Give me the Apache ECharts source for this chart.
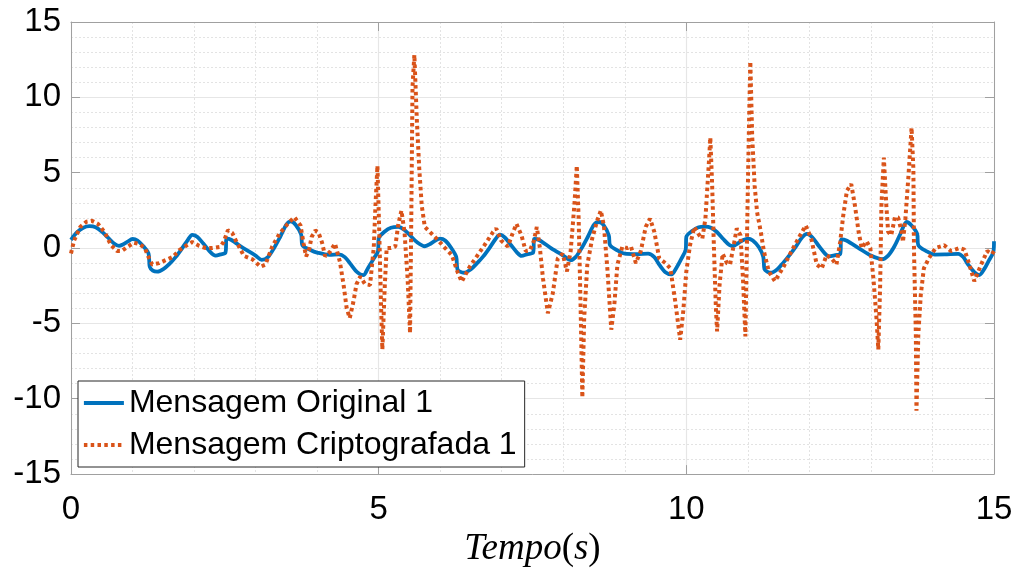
<!DOCTYPE html>
<html lang="pt">
<head>
    <meta charset="UTF-8">
    <title>Mensagem original x criptografada</title>
    <script src="https://cdn.jsdelivr.net/npm/echarts@6.0.0/dist/echarts.min.js"></script>
    <style>
        html, body { margin: 0; padding: 0; background: #fff; }
    </style>
</head>
<body>
    <div id="main" style="width: 1020px;height:573px;"></div>
    <script type="text/javascript">
        // Mensagem original (blue) - time (s) and value
        const tOriginal = [
            0.00, 0.10, 0.20, 0.30, 0.40, 0.50, 0.60, 0.70, 0.78, 0.85, 0.92, 1.00, 1.08, 1.18, 1.26, 1.28, 1.33, 1.40, 1.50, 1.60,
            1.70, 1.80, 1.90, 1.97, 2.05, 2.15, 2.25, 2.35, 2.43, 2.51, 2.53, 2.60, 2.80, 3.00, 3.10, 3.20, 3.30, 3.40, 3.50, 3.57,
            3.65, 3.74, 3.76, 3.90, 4.00, 4.20, 4.35, 4.45, 4.55, 4.65, 4.75, 4.83, 4.92, 4.99,
            5.00, 5.10, 5.20, 5.32, 5.42, 5.52, 5.62, 5.75, 5.85, 5.92, 6.00, 6.08, 6.18, 6.26, 6.28, 6.33, 6.39, 6.50, 6.60, 6.70,
            6.80, 6.90, 6.97, 7.05, 7.15, 7.25, 7.32, 7.42, 7.51, 7.53, 7.60, 7.80, 8.00, 8.12, 8.20, 8.30, 8.40, 8.50, 8.58, 8.65,
            8.74, 8.76, 8.90, 9.00, 9.20, 9.38, 9.48, 9.56, 9.66, 9.76, 9.84, 9.92, 9.99,
            10.00, 10.10, 10.20, 10.30, 10.40, 10.50, 10.60, 10.70, 10.76, 10.85, 10.92, 11.00, 11.08, 11.18, 11.25, 11.27, 11.32, 11.37, 11.48, 11.58,
            11.68, 11.78, 11.88, 11.96, 12.05, 12.15, 12.25, 12.32, 12.42, 12.50, 12.52, 12.60, 12.80, 13.00, 13.18, 13.28, 13.38, 13.48, 13.58, 13.66,
            13.75, 13.77, 13.90, 14.04, 14.20, 14.42, 14.50, 14.58, 14.68, 14.76, 14.84, 14.92, 14.99, 15.00
        ];
        const vOriginal = [
            0.55, 1.05, 1.35, 1.45, 1.38, 1.10, 0.70, 0.30, 0.15, 0.25, 0.42, 0.60, 0.50, 0.10, -0.36, -1.25, -1.50, -1.57, -1.40, -1.05,
            -0.60, -0.05, 0.55, 0.88, 0.75, 0.30, -0.20, -0.50, -0.42, -0.30, 0.63, 0.55, 0.00, -0.50, -0.78, -0.60, 0.00, 0.75, 1.55, 1.77,
            1.55, 0.90, 0.20, -0.15, -0.30, -0.45, -0.42, -0.60, -1.10, -1.60, -1.80, -1.30, -0.70, -0.20,
            0.63, 1.10, 1.35, 1.40, 1.20, 0.80, 0.40, 0.12, 0.30, 0.50, 0.63, 0.50, 0.00, -0.58, -1.40, -1.58, -1.64, -1.40, -1.00, -0.55,
            0.00, 0.60, 0.89, 0.70, 0.20, -0.30, -0.52, -0.40, -0.30, 0.60, 0.55, 0.00, -0.50, -0.80, -0.60, 0.00, 0.75, 1.55, 1.73, 1.55,
            0.85, 0.19, -0.20, -0.37, -0.40, -0.37, -0.60, -1.10, -1.60, -1.75, -1.30, -0.70, -0.10,
            0.75, 1.15, 1.38, 1.42, 1.35, 1.05, 0.60, 0.20, 0.13, 0.35, 0.52, 0.63, 0.50, 0.05, -0.58, -1.40, -1.58, -1.64, -1.40, -0.95,
            -0.45, 0.10, 0.70, 0.94, 0.70, 0.15, -0.35, -0.55, -0.47, -0.40, 0.58, 0.50, 0.00, -0.50, -0.74, -0.50, 0.10, 0.95, 1.73, 1.50,
            0.96, 0.19, -0.20, -0.43, -0.42, -0.38, -0.60, -1.10, -1.60, -1.79, -1.40, -0.80, -0.25, 0.45
        ];

        // Mensagem criptografada (red dotted) - time (s) and value
        const tCrypt = [
            0.00, 0.05, 0.15, 0.25, 0.34, 0.44, 0.55, 0.65, 0.75, 0.82, 0.92, 1.02, 1.12, 1.20, 1.27, 1.32, 1.43, 1.54, 1.65, 1.76,
            1.87, 1.97, 2.08, 2.19, 2.30, 2.42, 2.48, 2.55, 2.62, 2.69, 2.81, 2.95, 3.08, 3.16, 3.27, 3.39, 3.52, 3.63, 3.73, 3.78,
            3.82, 3.87, 3.91, 3.97, 4.02, 4.08, 4.13, 4.21, 4.29, 4.37, 4.43, 4.48, 4.53, 4.59, 4.64, 4.70, 4.78, 4.86, 4.92, 4.95,
            4.98, 5.01, 5.04, 5.06, 5.10, 5.13, 5.20, 5.27, 5.32, 5.37, 5.42, 5.47, 5.51, 5.53, 5.55, 5.58, 5.62, 5.66, 5.70, 5.75,
            5.86, 5.97, 6.08, 6.19, 6.28, 6.35, 6.48, 6.59, 6.72, 6.86, 6.91, 6.99, 7.10, 7.17, 7.24, 7.32, 7.39, 7.46, 7.52, 7.57,
            7.62, 7.67, 7.75, 7.83, 7.91, 7.99, 8.06, 8.12, 8.18, 8.22, 8.25, 8.28, 8.31, 8.34, 8.39, 8.47, 8.55, 8.61, 8.66, 8.72,
            8.78, 8.83, 8.88, 8.96, 9.04, 9.10, 9.18, 9.26, 9.34, 9.41, 9.48, 9.56, 9.66, 9.74, 9.82, 9.90, 9.95, 10.00, 10.06, 10.13,
            10.21, 10.26, 10.31, 10.36, 10.39, 10.42, 10.45, 10.48, 10.50, 10.54, 10.59, 10.66, 10.71, 10.77, 10.82, 10.88, 10.92, 10.96, 11.00, 11.02,
            11.04, 11.07, 11.11, 11.15, 11.21, 11.26, 11.34, 11.44, 11.58, 11.71, 11.85, 11.94, 12.03, 12.12, 12.20, 12.28, 12.36, 12.44, 12.50, 12.55,
            12.61, 12.68, 12.74, 12.80, 12.85, 12.93, 12.99, 13.04, 13.09, 13.12, 13.15, 13.17, 13.21, 13.25, 13.28, 13.33, 13.39, 13.44, 13.50, 13.52,
            13.56, 13.61, 13.66, 13.69, 13.70, 13.73, 13.74, 13.77, 13.81, 13.86, 13.94, 14.05, 14.19, 14.30, 14.44, 14.52, 14.60, 14.68, 14.79, 14.89,
            14.97, 15.00
        ];
        const vCrypt = [
            -0.36, 0.50, 1.40, 1.75, 1.81, 1.60, 1.02, 0.19, -0.20, -0.20, 0.08, 0.36, 0.25, 0.00, -0.69, -1.09, -1.00, -0.80, -0.60, -0.14,
            0.15, 0.40, 0.15, 0.00, 0.00, 0.08, 0.40, 1.18, 1.00, 0.40, -0.52, -0.75, -1.24, -1.10, 0.10, 0.96, 1.60, 2.05, 1.50, 0.30,
            -0.56, -0.10, 0.74, 1.17, 1.05, 0.36, -0.55, -0.25, 0.30, -0.91, -2.45, -3.99, -4.65, -3.55, -2.40, -1.90, -2.40, -2.45, 0.00, 3.00,
            5.46, 1.00, -4.00, -6.73, -2.45, 0.00, 0.00, 0.10, 1.60, 2.49, 1.07, -2.00, -5.64, 1.95, 10.70, 12.82, 8.54, 5.24, 2.82, 1.40,
            0.96, 0.50, 0.00, -0.47, -1.57, -2.23, -1.24, -0.58, 0.19, 1.07, 1.30, 0.50, 0.10, 0.90, 1.60, 0.85, -0.20, -0.15, 0.45, 1.40,
            0.00, -2.00, -4.32, -3.00, -0.69, -0.37, -1.55, -0.20, 2.82, 5.46, 1.95, -3.55, -9.92, -4.65, -1.13, 0.63, 1.80, 2.49, 1.50, -1.55,
            -5.42, -3.75, -1.10, 0.10, 0.00, 0.10, -1.00, -0.20, 1.40, 1.95, 1.07, -0.69, -1.00, -1.35, -3.55, -6.08, -4.20, -1.55, 0.19, 1.40,
            0.85, 0.63, 1.95, 5.24, 7.33, 4.14, -0.20, -3.95, -5.53, -2.45, -0.37, -1.00, -1.10, 0.19, 1.30, 0.85, -2.00, -5.86, 4.10, 8.54,
            12.38, 7.44, 4.14, 2.38, 1.07, -0.20, -1.55, -2.20, -1.24, -0.20, 0.85, 1.50, 0.63, -1.10, -1.35, -0.47, -0.69, -1.10, 0.40, 2.16,
            3.81, 4.25, 2.82, 1.07, 0.00, 0.45, 0.00, -2.00, -4.65, -6.73, -2.45, 2.80, 6.00, 2.82, 1.07, 0.85, 2.05, 2.05, 1.07, 0.40,
            1.95, 4.80, 7.99, 5.24, -0.20, -5.75, -10.80, -5.75, -3.11, -1.35, -0.69, 0.00, 0.19, -0.20, 0.00, -0.10, -1.10, -2.20, -1.10, -0.20,
            -0.40, -0.20
        ];

        const xTicks = [0, 5, 10, 15];
        const yTicks = [-15, -10, -5, 0, 5, 10, 15];

        const axisColor = '#a0a0a0';
        const labelFont = 'Liberation Sans, Arial, Helvetica, sans-serif';
        const serifFont = 'Liberation Serif, DejaVu Serif, serif';

        let myChart = echarts.init(document.getElementById('main'), null, { renderer: 'canvas' });

        // box axes (top/right copies only draw ticks, like the MATLAB box)
        function makeAxis(isX, position, showLabels) {
            let ticks = isX ? xTicks : yTicks;
            return {
                type: 'value',
                position: position,
                min: ticks[0],
                max: ticks[ticks.length - 1],
                interval: 5,
                axisLine: { show: true, onZero: false, lineStyle: { color: axisColor, width: 1 } },
                axisTick: { show: true, inside: true, length: 9, lineStyle: { color: axisColor, width: 1 } },
                axisLabel: {
                    show: showLabels,
                    color: '#000',
                    fontSize: 33,
                    fontFamily: labelFont,
                    margin: isX ? 19 : 10
                },
                splitLine: { show: showLabels, lineStyle: { color: '#e6e6e6', width: 1.2 } },
                minorTick: { show: showLabels, splitNumber: 5, length: 0 },
                minorSplitLine: { show: showLabels, lineStyle: { color: '#e3e3e3', type: [2, 2], width: 1 } }
            };
        }

        let xMain = makeAxis(true, 'bottom', true);
        xMain.name = '{i|Tempo}{u|(}{i|s}{u|)}';
        xMain.nameLocation = 'middle';
        xMain.nameGap = 53;
        xMain.nameTextStyle = {
            rich: {
                i: { fontFamily: serifFont, fontStyle: 'italic', fontSize: 37, color: '#000' },
                u: { fontFamily: serifFont, fontSize: 37, color: '#000' }
            }
        };

        let options = {
            animation: false,
            backgroundColor: '#fff',
            grid: { left: 71, right: 26, top: 22, bottom: 96, containLabel: false },
            legend: {
                orient: 'vertical',
                left: 78,
                top: 381,
                padding: [4, 8, 4, 4],
                itemGap: 6,
                itemWidth: 40,
                itemHeight: 14,
                backgroundColor: '#fff',
                borderColor: '#262626',
                borderWidth: 1,
                borderRadius: 0,
                // hide the marker symbol, keep only the line sample
                itemStyle: { color: 'rgba(0,0,0,0)', borderWidth: 0 },
                lineStyle: { width: 3.8 },
                textStyle: { color: '#000', fontSize: 32, fontFamily: labelFont, lineHeight: 36 },
                data: ['Mensagem Original 1', 'Mensagem Criptografada 1']
            },
            xAxis: [xMain, makeAxis(true, 'top', false)],
            yAxis: [makeAxis(false, 'left', true), makeAxis(false, 'right', false)],
            series: [
                {
                    name: 'Mensagem Original 1',
                    type: 'line',
                    data: tOriginal.map((t, i) => [t, vOriginal[i]]),
                    showSymbol: false,
                    symbol: 'none',
                    smooth: 0.3,
                    lineStyle: { color: '#0072BD', width: 3.8 },
                    itemStyle: { color: '#0072BD' },
                    z: 3
                },
                {
                    name: 'Mensagem Criptografada 1',
                    type: 'line',
                    data: tCrypt.map((t, i) => [t, vCrypt[i]]),
                    showSymbol: false,
                    symbol: 'none',
                    lineStyle: { color: '#D95319', width: 4, type: [3.5, 3.3] },
                    itemStyle: { color: '#D95319' },
                    z: 4
                }
            ]
        };

        myChart.setOption(options);
    </script>
</body>
</html>
